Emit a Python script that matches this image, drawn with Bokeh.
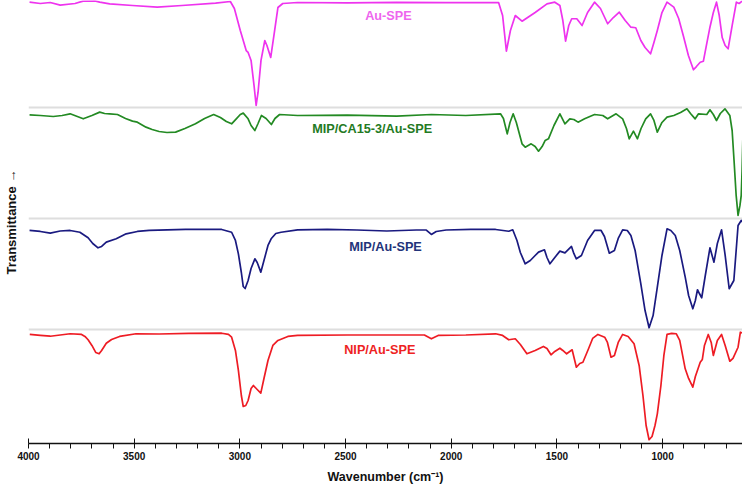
from bokeh.plotting import figure
from bokeh.models import Range1d, FixedTicker
from bokeh.core.properties import value
from bokeh.embed import file_html
from bokeh.resources import INLINE

# ---------------- data (wavenumber in cm-1, relative transmittance in % of band) -------------
wn_au = [3995, 3944, 3897, 3850, 3780, 3742, 3686, 3663, 3616, 3508, 3391, 3274, 3115, 3045,
         3026, 2998, 2970, 2961, 2947, 2933, 2923, 2914, 2900, 2882, 2872, 2854, 2839, 2820,
         2797, 2727, 2492, 2258, 2024, 1776, 1757, 1739, 1720, 1697, 1665, 1603, 1547, 1510,
         1486, 1472, 1459, 1444, 1430, 1406, 1381, 1355, 1322, 1294, 1260, 1233, 1205, 1177,
         1150, 1127, 1103, 1083, 1057, 1041, 1025, 1003, 979, 947, 924, 901, 878, 854, 840,
         822, 807, 793, 776, 760, 745, 732, 718, 704, 690, 671, 651, 638, 620]
t_au = [94.8, 93.6, 94.5, 92.1, 93.6, 95.7, 95.9, 94.8, 93.3, 91.8, 90.3, 91.8, 93.9, 95.4,
        89.1, 69.3, 51.3, 49.6, 42.4, 19.9, 1.9, 13.6, 42.4, 60.3, 55.8, 45.1, 64.8, 90.0,
        93.6, 94.5, 94.1, 94.7, 94.3, 94.5, 82.8, 50.7, 69.3, 82.8, 77.7, 85.5, 93.3, 94.8,
        91.8, 78.3, 59.7, 73.8, 79.9, 79.9, 73.8, 85.5, 94.8, 89.1, 75.4, 81.0, 85.8, 78.3,
        72.3, 71.8, 60.3, 54.0, 48.4, 58.5, 69.3, 85.5, 94.8, 90.3, 80.1, 63.9, 46.9, 34.0, 36.9,
        40.8, 41.7, 55.8, 72.3, 85.5, 94.8, 82.8, 63.0, 55.8, 52.9, 73.8, 94.8, 93.6, 96.3]

wn_mipca = [3995, 3944, 3883, 3841, 3803, 3741, 3700, 3663, 3640, 3616, 3579, 3541, 3508, 3485,
            3444, 3415, 3382, 3345, 3304, 3260, 3210, 3167, 3124, 3092, 3064, 3039, 3017, 2998,
            2984, 2961, 2947, 2929, 2914, 2898, 2876, 2851, 2834, 2812, 2727, 2492, 2258, 2094,
            1931, 1767, 1753, 1735, 1722, 1707, 1692, 1665, 1650, 1622, 1603, 1587, 1570, 1556,
            1540, 1514, 1486, 1462, 1439, 1420, 1400, 1369, 1322, 1283, 1260, 1220, 1189, 1171,
            1158, 1138, 1119, 1102, 1080, 1057, 1041, 1025, 1003, 979, 947, 915, 885, 868, 846,
            830, 791, 776, 760, 745, 727, 705, 682, 671, 662, 652, 643, 634, 628, 624, 620]
t_mipca = [93.5, 92.9, 92.0, 92.9, 94.4, 89.9, 92.9, 95.9, 94.7, 94.4, 93.8, 90.2, 87.8, 86.9,
           82.4, 80.3, 78.5, 77.6, 77.9, 81.2, 85.4, 90.2, 93.8, 91.1, 87.5, 85.4, 89.9, 93.8,
           95.0, 89.9, 83.9, 79.4, 85.7, 92.9, 90.2, 84.8, 90.2, 93.8, 92.9, 93.3, 92.4, 93.8,
           92.9, 94.4, 90.2, 76.4, 86.6, 94.4, 86.6, 67.4, 64.4, 67.4, 65.0, 60.8, 65.0, 70.4,
           71.9, 83.9, 94.4, 85.4, 89.9, 89.3, 86.9, 89.9, 93.8, 92.9, 89.9, 94.4, 89.9, 81.2,
           71.9, 78.8, 71.9, 81.2, 89.9, 94.4, 88.4, 77.9, 86.6, 91.4, 92.9, 95.6, 98.9, 94.7, 89.9,
           94.4, 93.8, 98.0, 93.8, 88.4, 94.7, 98.9, 92.9, 79.4, 52.4, 21.0, 3.0, 12.0, 21.0, 43.4, 75.0]

wn_mip = [3995, 3944, 3897, 3850, 3803, 3757, 3718, 3696, 3671, 3654, 3632, 3585, 3538, 3485,
          3429, 3257, 3086, 3039, 3021, 3007, 2993, 2984, 2975, 2961, 2947, 2929, 2918, 2901,
          2886, 2867, 2852, 2830, 2805, 2727, 2586, 2446, 2305, 2165, 2118, 2094, 2071, 2024,
          1907, 1790, 1728, 1709, 1689, 1673, 1650, 1626, 1603, 1587, 1559, 1547, 1533, 1510,
          1486, 1462, 1431, 1420, 1408, 1384, 1355, 1322, 1291, 1275, 1252, 1228, 1210, 1189,
          1167, 1150, 1130, 1103, 1083, 1064, 1045, 1025, 1003, 979, 961, 940, 919, 893, 877,
          857, 845, 835, 826, 815, 798, 776, 757, 741, 721, 704, 685, 663, 652, 643, 628, 620]
t_mip = [89.5, 88.6, 87.1, 89.0, 89.5, 87.9, 82.9, 77.8, 73.9, 75.1, 79.0, 82.0, 86.5, 88.6,
         89.5, 90.4, 90.4, 87.9, 80.5, 68.5, 51.7, 39.1, 37.3, 44.5, 55.3, 64.0, 60.7, 52.0,
         62.5, 76.0, 82.0, 86.8, 87.9, 90.1, 90.4, 89.9, 89.0, 89.9, 89.9, 85.9, 88.6, 89.9,
         90.4, 90.4, 88.8, 90.1, 80.5, 69.7, 59.5, 62.5, 67.0, 70.0, 72.1, 65.2, 59.5, 65.2,
         70.9, 69.4, 75.1, 68.8, 64.0, 67.0, 80.5, 89.5, 89.5, 84.1, 69.1, 71.5, 82.3, 90.1,
         89.5, 85.0, 71.5, 41.5, 17.5, 2.0, 13.0, 38.5, 67.0, 91.0, 89.5, 85.0, 71.5, 47.5, 31.0,
         19.1, 26.5, 36.2, 32.8, 29.0, 49.0, 73.9, 61.0, 77.8, 90.1, 67.0, 37.1, 44.5, 71.5, 94.0, 98.5, 96.7]

wn_nip = [3994, 3944, 3897, 3850, 3803, 3749, 3733, 3718, 3700, 3682, 3666, 3654, 3632, 3607,
          3569, 3491, 3382, 3242, 3086, 3054, 3039, 3021, 3007, 2993, 2984, 2972, 2961, 2947,
          2936, 2918, 2901, 2886, 2867, 2844, 2820, 2773, 2727, 2492, 2258, 2127, 2094, 2062,
          1931, 1790, 1757, 1728, 1697, 1673, 1642, 1603, 1564, 1547, 1528, 1510, 1486, 1472,
          1454, 1428, 1418, 1408, 1392, 1377, 1350, 1331, 1306, 1274, 1261, 1244, 1228, 1210,
          1189, 1163, 1135, 1111, 1093, 1078, 1064, 1050, 1036, 1025, 1008, 994, 979, 957, 935,
          919, 893, 877, 857, 845, 822, 812, 802, 784, 770, 760, 741, 721, 704, 682, 667, 643,
          632, 620]
t_nip = [96.0, 95.1, 94.4, 95.5, 96.6, 96.0, 94.2, 91.2, 86.1, 79.8, 78.6, 81.6, 88.1, 91.5,
         94.2, 96.6, 96.4, 96.9, 97.1, 96.0, 93.5, 81.6, 63.6, 41.1, 31.2, 32.1, 36.6, 47.4,
         50.1, 46.5, 43.2, 56.4, 72.6, 86.1, 90.6, 94.2, 95.1, 95.5, 95.5, 95.5, 92.1, 95.1,
         95.5, 96.6, 95.1, 91.2, 92.1, 87.0, 78.6, 81.6, 85.2, 83.4, 77.7, 80.7, 83.6, 81.6,
         78.6, 82.2, 74.4, 66.5, 69.9, 71.0, 83.4, 92.4, 96.0, 93.5, 88.8, 75.5, 77.1, 88.8,
         96.0, 94.2, 87.6, 68.1, 41.1, 14.1, 1.3, 4.2, 14.1, 24.6, 50.1, 77.1, 96.0, 96.9, 96.6,
         90.6, 65.1, 56.4, 48.6, 58.2, 71.0, 73.5, 86.1, 96.0, 88.8, 77.1, 90.6, 96.0, 86.1, 71.9,
         74.4, 84.5, 98.0, 97.1]

series_names = ["Au-SPE", "MIP/CA15-3/Au-SPE", "MIP/Au-SPE", "NIP/Au-SPE"]
x_ticks = [4000, 3500, 3000, 2500, 2000, 1500, 1000]
x_minor = list(range(700, 4001, 100))
x_title = "Wavenumber (cm⁻¹)"
y_title = "Transmittance →"

# ---------------- styling / layout -------------
line_colors = ["#ee33ee", "#238a23", "#1a1a80", "#ee1c24"]
label_colors = ["#ee66ee", "#237a23", "#22337a", "#ee2222"]
offsets = [3, 2, 1, 0]
label_x = [2297, 2374, 2311, 2338]
label_dy = [0.828, 0.803, 0.742, 0.822]

FONT = "Liberation Sans"

p = figure(width=742, height=486, output_backend="svg", toolbar_location=None,
           x_range=Range1d(4000, 622), y_range=Range1d(-0.0207, 3.963),
           min_border_left=28, min_border_right=0, min_border_top=0, min_border_bottom=43)
p.outline_line_color = None
p.background_fill_color = "white"
p.border_fill_color = "white"

series = [(wn_au, t_au), (wn_mipca, t_mipca), (wn_mip, t_mip), (wn_nip, t_nip)]
for (wn, t), off, col in zip(series, offsets, line_colors):
    p.line(wn, [off + v / 100.0 for v in t], line_color=col, line_width=1.7,
           line_join="round")

p.text(x=label_x, y=[o + d for o, d in zip(offsets, label_dy)], text=series_names,
       text_color=label_colors, text_font=value(FONT), text_font_style="bold",
       text_font_size=value("12.7px"), text_align="center", text_baseline="middle")

# grids: only light horizontal separators
p.xgrid.visible = False
p.ygrid.ticker = FixedTicker(ticks=[1, 2, 3])
p.ygrid.grid_line_color = "#dedede"
p.ygrid.grid_line_width = 2

# x axis
xa = p.xaxis[0]
xa.ticker = FixedTicker(ticks=x_ticks, minor_ticks=x_minor)
xa.axis_line_color = "#111111"
xa.axis_line_width = 1.5
xa.major_tick_in = 5
xa.major_tick_out = 0
xa.minor_tick_in = 0
xa.minor_tick_out = 5
xa.major_tick_line_color = "#111111"
xa.minor_tick_line_color = "#111111"
xa.major_label_text_font = FONT
xa.major_label_text_font_style = "bold"
xa.major_label_text_font_size = "10px"
xa.major_label_text_color = "#111111"
xa.major_label_standoff = 3
xa.axis_label = x_title
xa.axis_label_text_font = FONT
xa.axis_label_text_font_style = "bold"
xa.axis_label_text_font_size = "12.5px"
xa.axis_label_text_color = "#111111"
xa.axis_label_standoff = 7

# y axis: label only
ya = p.yaxis[0]
ya.ticker = FixedTicker(ticks=[])
ya.axis_line_color = None
ya.major_tick_line_color = None
ya.minor_tick_line_color = None
ya.axis_label = y_title
ya.axis_label_text_font = FONT
ya.axis_label_text_font_style = "bold"
ya.axis_label_text_font_size = "13px"
ya.axis_label_text_color = "#111111"
ya.axis_label_standoff = 10

open("out.html", "w").write(file_html(p, INLINE))
